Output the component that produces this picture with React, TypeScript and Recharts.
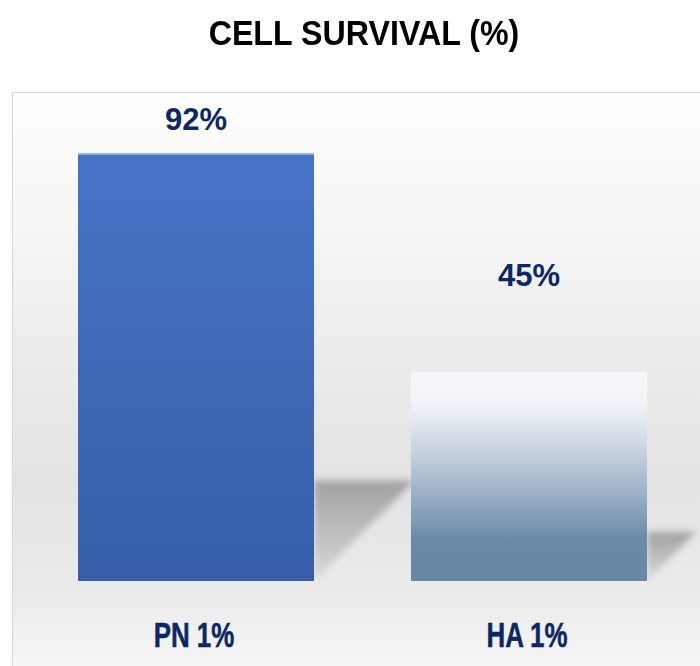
import { BarChart, Bar, XAxis, YAxis, LabelList } from 'recharts';

const groups = ['PN 1%', 'HA 1%'];
const survival = [92, 45];

// how far each value label sits above its bar top
const labelLift = [34, 96];

const data = groups.map((name, i) => ({ name, survival: survival[i] }));

const NAVY = '#0c2764';

function SurvivalBar(props: any) {
  const { x, y, width, height, index } = props;
  const bottom = y + height;
  const right = x + width;
  const s = height * 0.235;
  const fill = index === 0 ? 'url(#pnFill)' : 'url(#haFill)';
  return (
    <g>
      <polygon
        points={`${right},${bottom} ${right},${bottom - s} ${right + s},${bottom - s}`}
        fill="url(#shadowFill)"
        filter="url(#soft)"
      />
      <rect x={x} y={y} width={width} height={height} fill={fill} />
      {index === 0 && <rect x={x} y={y} width={width} height={1.5} fill="#a9c1e6" />}
    </g>
  );
}

function ValueLabel(props: any) {
  const { x, y, width, value, index } = props;
  return (
    <text
      x={x + width / 2}
      y={y - labelLift[index]}
      textAnchor="middle"
      dominantBaseline="central"
      fontFamily="Arial, 'Liberation Sans', sans-serif"
      fontWeight="bold"
      fontSize={31}
      fill={NAVY}
    >
      {value}%
    </text>
  );
}

// bold text squeezed horizontally to get a condensed look
function GroupTick(props: any) {
  const { x, payload } = props;
  return (
    <g transform={`translate(${x - 2},635) scale(0.72,1)`}>
      <text
        x={0}
        y={0}
        textAnchor="middle"
        dominantBaseline="central"
        fontFamily="'Liberation Sans', Arial, sans-serif"
        fontWeight="bold"
        fontSize={36}
        fill={NAVY}
        stroke={NAVY}
        strokeWidth={0.5}
      >
        {payload.value}
      </text>
    </g>
  );
}

export default function App() {
  return (
    <div style={{ position: 'absolute', left: 0, top: 0, width: 700, height: 666, background: '#fff', overflow: 'hidden' }}>
      <div
        style={{
          position: 'absolute',
          left: 0,
          width: 728,
          top: 15,
          lineHeight: 1,
          textAlign: 'center',
          fontFamily: "Arial, 'Liberation Sans', sans-serif",
          fontWeight: 'bold',
          fontSize: 35,
          color: '#000',
          transform: 'scaleX(0.92)',
        }}
      >
        CELL SURVIVAL (%)
      </div>
      <div
        style={{
          position: 'absolute',
          left: 12,
          top: 92,
          width: 700,
          height: 600,
          borderTop: '1.5px solid #d6d6d6',
          borderLeft: '1.5px solid #d6d6d6',
          background: 'linear-gradient(to bottom, #ffffff 0%, #f2f2f2 30%, #e3e3e3 65%, #ececec 85%, #fafafa 100%)',
        }}
      />
      <div style={{ position: 'absolute', left: 0, top: 0 }}>
        <BarChart
          width={700}
          height={666}
          data={data}
          margin={{ top: 116, right: 4.5, bottom: 0, left: 29.5 }}
          barCategoryGap={48.5}
        >
          <defs>
            <linearGradient id="pnFill" x1="0" y1="0" x2="0" y2="1">
              <stop offset="0%" stopColor="#4674c7" />
              <stop offset="100%" stopColor="#385ea8" />
            </linearGradient>
            <linearGradient id="haFill" x1="0" y1="0" x2="0" y2="1">
              <stop offset="0%" stopColor="#f6f7fb" />
              <stop offset="15%" stopColor="#f2f4f8" />
              <stop offset="35%" stopColor="#cdd7e2" />
              <stop offset="60%" stopColor="#98aec4" />
              <stop offset="80%" stopColor="#6a8aa9" />
              <stop offset="100%" stopColor="#6888a6" />
            </linearGradient>
            <linearGradient id="shadowFill" x1="0" y1="0" x2="0" y2="1">
              <stop offset="0%" stopColor="#a0a0a0" />
              <stop offset="100%" stopColor="#dadada" />
            </linearGradient>
            <filter id="soft" x="-20%" y="-20%" width="140%" height="140%">
              <feGaussianBlur stdDeviation="3.5" />
            </filter>
          </defs>
          <XAxis dataKey="name" height={85} axisLine={false} tickLine={false} tick={<GroupTick />} />
          <YAxis hide domain={[0, 100]} />
          <Bar dataKey="survival" shape={<SurvivalBar />} isAnimationActive={false}>
            <LabelList dataKey="survival" content={<ValueLabel />} />
          </Bar>
        </BarChart>
      </div>
    </div>
  );
}
